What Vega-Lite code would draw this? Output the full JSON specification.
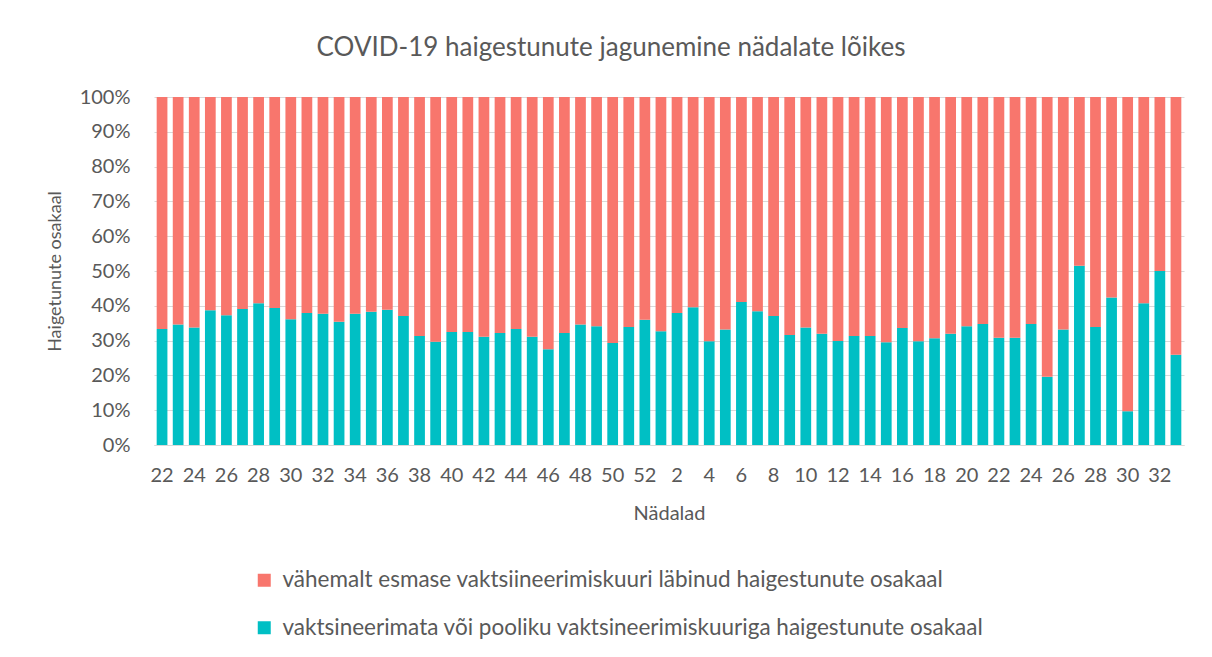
{
  "$schema": "https://vega.github.io/schema/vega-lite/v6.json",
  "width": 1030,
  "height": 348,
  "autosize": {"type": "none"},
  "padding": {"left": 154, "top": 97, "right": 28, "bottom": 212},
  "background": "white",
  "title": {
    "text": "COVID-19 haigestunute jagunemine nädalate lõikes",
    "font": "Lato",
    "fontSize": 26,
    "fontWeight": "normal",
    "color": "#595959",
    "anchor": "middle",
    "baseline": "alphabetic",
    "offset": 5,
    "dx": -58
  },
  "data": {
    "values": [
      {"nadal": "2021-22", "vaktsineerimata": 33.3, "vaktsineeritud": 66.7},
      {"nadal": "2021-23", "vaktsineerimata": 34.6, "vaktsineeritud": 65.4},
      {"nadal": "2021-24", "vaktsineerimata": 33.8, "vaktsineeritud": 66.2},
      {"nadal": "2021-25", "vaktsineerimata": 38.7, "vaktsineeritud": 61.3},
      {"nadal": "2021-26", "vaktsineerimata": 37.3, "vaktsineeritud": 62.7},
      {"nadal": "2021-27", "vaktsineerimata": 39.1, "vaktsineeritud": 60.9},
      {"nadal": "2021-28", "vaktsineerimata": 40.7, "vaktsineeritud": 59.3},
      {"nadal": "2021-29", "vaktsineerimata": 39.4, "vaktsineeritud": 60.6},
      {"nadal": "2021-30", "vaktsineerimata": 36.1, "vaktsineeritud": 63.9},
      {"nadal": "2021-31", "vaktsineerimata": 37.9, "vaktsineeritud": 62.1},
      {"nadal": "2021-32", "vaktsineerimata": 37.7, "vaktsineeritud": 62.3},
      {"nadal": "2021-33", "vaktsineerimata": 35.4, "vaktsineeritud": 64.6},
      {"nadal": "2021-34", "vaktsineerimata": 37.7, "vaktsineeritud": 62.3},
      {"nadal": "2021-35", "vaktsineerimata": 38.3, "vaktsineeritud": 61.7},
      {"nadal": "2021-36", "vaktsineerimata": 38.9, "vaktsineeritud": 61.1},
      {"nadal": "2021-37", "vaktsineerimata": 37.1, "vaktsineeritud": 62.9},
      {"nadal": "2021-38", "vaktsineerimata": 31.3, "vaktsineeritud": 68.7},
      {"nadal": "2021-39", "vaktsineerimata": 29.7, "vaktsineeritud": 70.3},
      {"nadal": "2021-40", "vaktsineerimata": 32.5, "vaktsineeritud": 67.5},
      {"nadal": "2021-41", "vaktsineerimata": 32.5, "vaktsineeritud": 67.5},
      {"nadal": "2021-42", "vaktsineerimata": 31.1, "vaktsineeritud": 68.9},
      {"nadal": "2021-43", "vaktsineerimata": 32.2, "vaktsineeritud": 67.8},
      {"nadal": "2021-44", "vaktsineerimata": 33.3, "vaktsineeritud": 66.7},
      {"nadal": "2021-45", "vaktsineerimata": 31.1, "vaktsineeritud": 68.9},
      {"nadal": "2021-46", "vaktsineerimata": 27.5, "vaktsineeritud": 72.5},
      {"nadal": "2021-47", "vaktsineerimata": 32.2, "vaktsineeritud": 67.8},
      {"nadal": "2021-48", "vaktsineerimata": 34.6, "vaktsineeritud": 65.4},
      {"nadal": "2021-49", "vaktsineerimata": 34.1, "vaktsineeritud": 65.9},
      {"nadal": "2021-50", "vaktsineerimata": 29.3, "vaktsineeritud": 70.7},
      {"nadal": "2021-51", "vaktsineerimata": 33.9, "vaktsineeritud": 66.1},
      {"nadal": "2021-52", "vaktsineerimata": 36.0, "vaktsineeritud": 64.0},
      {"nadal": "2022-1", "vaktsineerimata": 32.7, "vaktsineeritud": 67.3},
      {"nadal": "2022-2", "vaktsineerimata": 37.9, "vaktsineeritud": 62.1},
      {"nadal": "2022-3", "vaktsineerimata": 39.6, "vaktsineeritud": 60.4},
      {"nadal": "2022-4", "vaktsineerimata": 29.8, "vaktsineeritud": 70.2},
      {"nadal": "2022-5", "vaktsineerimata": 33.2, "vaktsineeritud": 66.8},
      {"nadal": "2022-6", "vaktsineerimata": 41.1, "vaktsineeritud": 58.9},
      {"nadal": "2022-7", "vaktsineerimata": 38.4, "vaktsineeritud": 61.6},
      {"nadal": "2022-8", "vaktsineerimata": 37.1, "vaktsineeritud": 62.9},
      {"nadal": "2022-9", "vaktsineerimata": 31.6, "vaktsineeritud": 68.4},
      {"nadal": "2022-10", "vaktsineerimata": 33.8, "vaktsineeritud": 66.2},
      {"nadal": "2022-11", "vaktsineerimata": 32.0, "vaktsineeritud": 68.0},
      {"nadal": "2022-12", "vaktsineerimata": 29.9, "vaktsineeritud": 70.1},
      {"nadal": "2022-13", "vaktsineerimata": 31.3, "vaktsineeritud": 68.7},
      {"nadal": "2022-14", "vaktsineerimata": 31.3, "vaktsineeritud": 68.7},
      {"nadal": "2022-15", "vaktsineerimata": 29.5, "vaktsineeritud": 70.5},
      {"nadal": "2022-16", "vaktsineerimata": 33.6, "vaktsineeritud": 66.4},
      {"nadal": "2022-17", "vaktsineerimata": 29.8, "vaktsineeritud": 70.2},
      {"nadal": "2022-18", "vaktsineerimata": 30.7, "vaktsineeritud": 69.3},
      {"nadal": "2022-19", "vaktsineerimata": 32.0, "vaktsineeritud": 68.0},
      {"nadal": "2022-20", "vaktsineerimata": 34.1, "vaktsineeritud": 65.9},
      {"nadal": "2022-21", "vaktsineerimata": 34.8, "vaktsineeritud": 65.2},
      {"nadal": "2022-22", "vaktsineerimata": 30.8, "vaktsineeritud": 69.2},
      {"nadal": "2022-23", "vaktsineerimata": 30.8, "vaktsineeritud": 69.2},
      {"nadal": "2022-24", "vaktsineerimata": 34.8, "vaktsineeritud": 65.2},
      {"nadal": "2022-25", "vaktsineerimata": 19.6, "vaktsineeritud": 80.4},
      {"nadal": "2022-26", "vaktsineerimata": 33.2, "vaktsineeritud": 66.8},
      {"nadal": "2022-27", "vaktsineerimata": 51.5, "vaktsineeritud": 48.5},
      {"nadal": "2022-28", "vaktsineerimata": 33.9, "vaktsineeritud": 66.1},
      {"nadal": "2022-29", "vaktsineerimata": 42.4, "vaktsineeritud": 57.6},
      {"nadal": "2022-30", "vaktsineerimata": 9.7, "vaktsineeritud": 90.3},
      {"nadal": "2022-31", "vaktsineerimata": 40.7, "vaktsineeritud": 59.3},
      {"nadal": "2022-32", "vaktsineerimata": 50.0, "vaktsineeritud": 50.0},
      {"nadal": "2022-33", "vaktsineerimata": 25.9, "vaktsineeritud": 74.1}
    ]
  },
  "transform": [
    {"fold": ["vaktsineerimata", "vaktsineeritud"], "as": ["seisund", "osakaal"]}
  ],
  "mark": {"type": "bar"},
  "encoding": {
    "x": {
      "field": "nadal",
      "type": "ordinal",
      "sort": null,
      "scale": {"paddingInner": 0.333, "paddingOuter": 0.1667},
      "axis": {
        "values": ["2021-22","2021-24","2021-26","2021-28","2021-30","2021-32","2021-34","2021-36","2021-38","2021-40","2021-42","2021-44","2021-46","2021-48","2021-50","2021-52","2022-2","2022-4","2022-6","2022-8","2022-10","2022-12","2022-14","2022-16","2022-18","2022-20","2022-22","2022-24","2022-26","2022-28","2022-30","2022-32"],
        "labelExpr": "slice(datum.value, 5)",
        "labelAngle": 0,
        "labelOverlap": false,
        "ticks": false,
        "domain": true,
        "domainColor": "#D9D9D9",
        "domainWidth": 1,
        "labelPadding": 20,
        "labelFont": "Lato",
        "labelFontSize": 20,
        "labelColor": "#595959",
        "title": "Nädalad",
        "titleFont": "Lato",
        "titleFontSize": 20,
        "titleFontWeight": "normal",
        "titleColor": "#595959",
        "titlePadding": 18
      }
    },
    "y": {
      "field": "osakaal",
      "type": "quantitative",
      "stack": "normalize",
      "scale": {"domain": [0, 1]},
      "axis": {
        "values": [0, 0.1, 0.2, 0.3, 0.4, 0.5, 0.6, 0.7, 0.8, 0.9, 1],
        "format": ".0%",
        "grid": true,
        "gridColor": "#D9D9D9",
        "gridWidth": 1,
        "domain": false,
        "ticks": false,
        "labelPadding": 24,
        "labelFont": "Lato",
        "labelFontSize": 20,
        "labelColor": "#595959",
        "title": "Haigetunute osakaal",
        "titleFont": "Lato",
        "titleFontSize": 18,
        "titleFontWeight": "normal",
        "titleColor": "#595959",
        "titlePadding": 15
      }
    },
    "color": {
      "field": "seisund",
      "type": "nominal",
      "scale": {"domain": ["vaktsineeritud", "vaktsineerimata"], "range": ["#F8766D", "#00BFC4"]},
      "legend": {
        "orient": "none",
        "legendX": 99,
        "legendY": 472,
        "direction": "vertical",
        "title": null,
        "symbolType": "square",
        "symbolSize": 169,
        "symbolStrokeWidth": 0,
        "labelFont": "Lato",
        "labelFontSize": 22.5,
        "labelColor": "#595959",
        "labelOffset": 7,
        "rowPadding": 24.5,
        "labelLimit": 1000,
        "labelExpr": "datum.label == 'vaktsineeritud' ? 'vähemalt esmase vaktsiineerimiskuuri läbinud haigestunute osakaal' : 'vaktsineerimata või pooliku vaktsineerimiskuuriga haigestunute osakaal'"
      }
    },
    "order": {"field": "seisund", "sort": "ascending"}
  },
  "config": {
    "view": {"stroke": null},
    "font": "Lato"
  }
}
